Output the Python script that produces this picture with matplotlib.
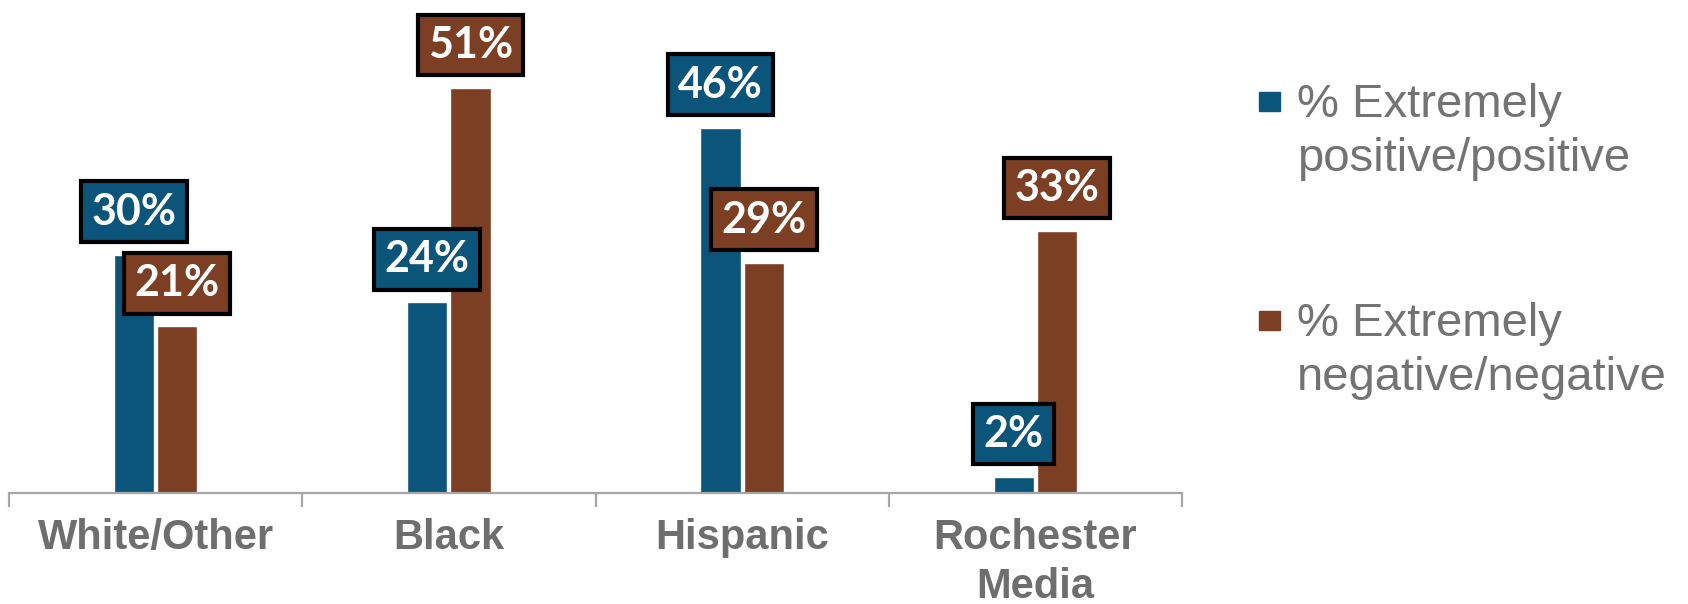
import numpy as np
import matplotlib
matplotlib.use("Agg")
from matplotlib import pyplot as plt
from matplotlib.patches import Rectangle

categories = ["White/Other", "Black", "Hispanic", "Rochester\nMedia"]
positive = [30, 24, 46, 2]
negative = [21, 51, 29, 33]
series_names = ["% Extremely\npositive/positive", "% Extremely\nnegative/negative"]

BLUE = "#0b547a"
BROWN = "#7c3f23"
GREY = "#6e6e6e"
AXIS = "#a6a6a6"

W, H = 1688, 604
fig = plt.figure(figsize=(W / 100, H / 100), dpi=100)
ax = fig.add_axes([9 / W, 111 / H, (1182 - 9) / W, (550 - 111) / H])

x = np.arange(len(categories))
bw, off = 0.137, 0.074
for vals, col, dx in [(positive, BLUE, -off), (negative, BROWN, off)]:
    bars = ax.bar(x + dx, vals, bw, color=col, edgecolor="white", linewidth=1, zorder=2)
    for b, v in zip(bars, vals):
        ax.annotate(f"{v}%", (b.get_x() + b.get_width() / 2, v), xytext=(0, 31),
                    textcoords="offset points", ha="center", va="center",
                    fontsize=31, fontweight="bold", family="Lato", color="white",
                    bbox=dict(boxstyle="square,pad=0.24", fc=col, ec="black", lw=3),
                    annotation_clip=False, zorder=5)

ax.set_xlim(-0.5, len(categories) - 0.5)
ax.set_ylim(0, 55.3)
for s in ["top", "left", "right"]:
    ax.spines[s].set_visible(False)
ax.spines["bottom"].set_color(AXIS)
ax.spines["bottom"].set_linewidth(1.6)
ax.set_yticks([])
ax.set_xticks(np.arange(len(categories) + 1) - 0.5)
ax.set_xticklabels([])
ax.tick_params(axis="x", which="major", length=10, width=1.6, color=AXIS)
ax.set_xticks(x, minor=True)
ax.set_xticklabels(categories, minor=True, fontsize=30, fontweight="bold",
                   family="Liberation Sans", color=GREY, linespacing=1.3)
ax.tick_params(axis="x", which="minor", length=0, pad=18)

# legend drawn by hand: square next to the first line of each label
leg_y = [83, 302]
for name, col, yy in zip(series_names, [BLUE, BROWN], leg_y):
    fig.patches.append(Rectangle((1259 / W, 1 - (yy + 28) / H), 21 / W, 19 / H,
                                 transform=fig.transFigure, color=col))
    fig.text(1297 / W, 1 - yy / H, name, fontsize=34, family="Liberation Sans",
             color="#737373", va="top", ha="left", linespacing=1.3)

fig.savefig("out.png", dpi=100)
